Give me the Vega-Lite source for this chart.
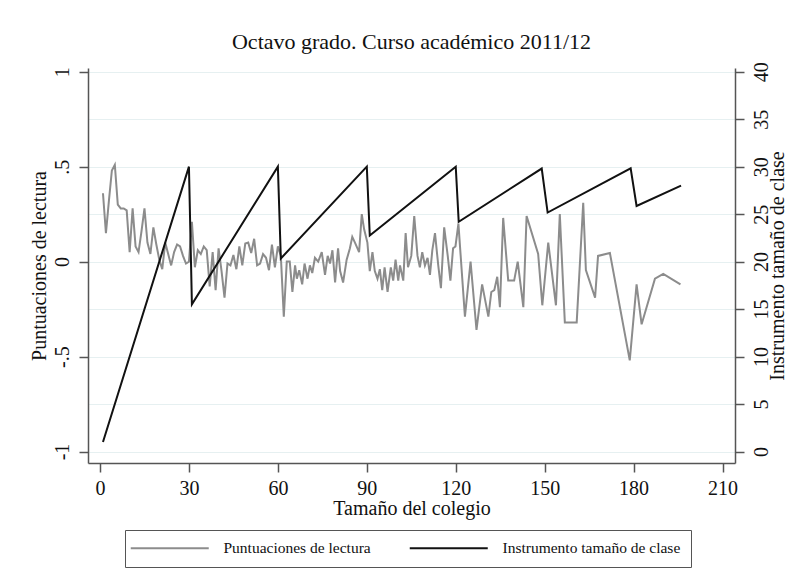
{
  "$schema": "https://vega.github.io/schema/vega-lite/v6.json",
  "autosize": {"type": "none"},
  "padding": {"left": 88, "top": 68, "right": 68, "bottom": 124},
  "width": 647,
  "height": 395,
  "background": "white",
  "config": {
    "view": {"stroke": null},
    "font": "Liberation Serif",
    "axis": {
      "labelFont": "Liberation Serif",
      "titleFont": "Liberation Serif",
      "labelFontSize": 20,
      "titleFontSize": 20,
      "labelColor": "#111",
      "titleColor": "#111",
      "titleFontWeight": "normal",
      "domainColor": "#555",
      "domainWidth": 1.5,
      "tickColor": "#555",
      "tickWidth": 1.5,
      "tickSize": 9
    }
  },
  "title": {
    "text": "Octavo grado. Curso académico 2011/12",
    "font": "Liberation Serif",
    "fontSize": 22,
    "fontWeight": "normal",
    "color": "#111",
    "anchor": "middle",
    "offset": 8
  },
  "datasets": {
    "lectura": [
      {"tamano": 1, "lectura": 0.36}, {"tamano": 2, "lectura": 0.15}, {"tamano": 3, "lectura": 0.32}, {"tamano": 4, "lectura": 0.48}, {"tamano": 5, "lectura": 0.51},
      {"tamano": 6, "lectura": 0.30}, {"tamano": 7, "lectura": 0.28}, {"tamano": 8, "lectura": 0.28}, {"tamano": 9, "lectura": 0.27}, {"tamano": 10, "lectura": 0.05},
      {"tamano": 11, "lectura": 0.28}, {"tamano": 12, "lectura": 0.08}, {"tamano": 13, "lectura": 0.05}, {"tamano": 14, "lectura": 0.16}, {"tamano": 15, "lectura": 0.28},
      {"tamano": 16, "lectura": 0.10}, {"tamano": 17, "lectura": 0.04}, {"tamano": 18, "lectura": 0.18}, {"tamano": 19, "lectura": 0.09}, {"tamano": 20, "lectura": 0.01},
      {"tamano": 21, "lectura": -0.04}, {"tamano": 22, "lectura": 0.10}, {"tamano": 23, "lectura": 0.04}, {"tamano": 24, "lectura": -0.02}, {"tamano": 25, "lectura": 0.05},
      {"tamano": 26, "lectura": 0.09}, {"tamano": 27, "lectura": 0.08}, {"tamano": 28, "lectura": 0.03}, {"tamano": 29, "lectura": -0.01}, {"tamano": 30, "lectura": 0.0},
      {"tamano": 31, "lectura": 0.21}, {"tamano": 32, "lectura": -0.03}, {"tamano": 33, "lectura": 0.06}, {"tamano": 34, "lectura": 0.04}, {"tamano": 35, "lectura": 0.08},
      {"tamano": 36, "lectura": 0.06}, {"tamano": 37, "lectura": -0.13}, {"tamano": 38, "lectura": 0.05}, {"tamano": 39, "lectura": -0.15}, {"tamano": 40, "lectura": 0.07},
      {"tamano": 41, "lectura": -0.05}, {"tamano": 42, "lectura": -0.19}, {"tamano": 43, "lectura": -0.01}, {"tamano": 44, "lectura": -0.02}, {"tamano": 45, "lectura": 0.035},
      {"tamano": 46, "lectura": -0.04}, {"tamano": 47, "lectura": 0.08}, {"tamano": 48, "lectura": -0.02}, {"tamano": 49, "lectura": 0.095}, {"tamano": 50, "lectura": 0.10},
      {"tamano": 51, "lectura": 0.045}, {"tamano": 52, "lectura": 0.12}, {"tamano": 53, "lectura": -0.02}, {"tamano": 54, "lectura": -0.01}, {"tamano": 55, "lectura": 0.04},
      {"tamano": 56, "lectura": 0.02}, {"tamano": 57, "lectura": -0.045}, {"tamano": 58, "lectura": 0.09}, {"tamano": 59, "lectura": -0.03}, {"tamano": 60, "lectura": 0.08},
      {"tamano": 61, "lectura": 0.03}, {"tamano": 62, "lectura": -0.29}, {"tamano": 63, "lectura": 0.0}, {"tamano": 64, "lectura": 0.0}, {"tamano": 64.9, "lectura": -0.16},
      {"tamano": 65.8, "lectura": -0.02}, {"tamano": 66.4, "lectura": -0.09}, {"tamano": 67.2, "lectura": -0.045}, {"tamano": 68.2, "lectura": -0.12}, {"tamano": 69, "lectura": -0.01},
      {"tamano": 70, "lectura": -0.09}, {"tamano": 70.8, "lectura": -0.02}, {"tamano": 71.6, "lectura": -0.06}, {"tamano": 72.5, "lectura": 0.02}, {"tamano": 73.6, "lectura": 0.0},
      {"tamano": 74.8, "lectura": 0.05}, {"tamano": 75.9, "lectura": -0.07}, {"tamano": 76.8, "lectura": 0.03}, {"tamano": 77.6, "lectura": -0.01}, {"tamano": 78.4, "lectura": 0.06},
      {"tamano": 79.3, "lectura": -0.11}, {"tamano": 80.3, "lectura": 0.07}, {"tamano": 81, "lectura": -0.05}, {"tamano": 82, "lectura": -0.11}, {"tamano": 83.2, "lectura": 0.01},
      {"tamano": 84.3, "lectura": 0.07}, {"tamano": 85.1, "lectura": 0.13}, {"tamano": 86, "lectura": 0.10}, {"tamano": 87.4, "lectura": 0.05}, {"tamano": 88.3, "lectura": 0.25},
      {"tamano": 89.1, "lectura": 0.17}, {"tamano": 90.2, "lectura": 0.10}, {"tamano": 91, "lectura": -0.05}, {"tamano": 91.9, "lectura": 0.05}, {"tamano": 92.7, "lectura": -0.05},
      {"tamano": 93.6, "lectura": -0.09}, {"tamano": 94.4, "lectura": -0.04}, {"tamano": 95.2, "lectura": -0.15}, {"tamano": 96, "lectura": -0.03}, {"tamano": 97, "lectura": -0.16},
      {"tamano": 98.1, "lectura": -0.03}, {"tamano": 98.9, "lectura": -0.10}, {"tamano": 99.7, "lectura": 0.01}, {"tamano": 100.6, "lectura": -0.10}, {"tamano": 101.2, "lectura": -0.02},
      {"tamano": 102.3, "lectura": -0.10}, {"tamano": 103.1, "lectura": 0.15}, {"tamano": 103.9, "lectura": -0.03}, {"tamano": 105, "lectura": 0.03}, {"tamano": 106, "lectura": 0.24},
      {"tamano": 107.1, "lectura": 0.03}, {"tamano": 107.9, "lectura": -0.03}, {"tamano": 108.7, "lectura": 0.05}, {"tamano": 109.6, "lectura": -0.02}, {"tamano": 110.5, "lectura": 0.02},
      {"tamano": 111.3, "lectura": -0.07}, {"tamano": 112.1, "lectura": 0.06}, {"tamano": 113, "lectura": 0.15}, {"tamano": 114.1, "lectura": -0.02}, {"tamano": 115, "lectura": -0.14},
      {"tamano": 116.1, "lectura": 0.18}, {"tamano": 117.3, "lectura": 0.03}, {"tamano": 118.2, "lectura": -0.10}, {"tamano": 119.1, "lectura": 0.07}, {"tamano": 119.9, "lectura": 0.08},
      {"tamano": 120.9, "lectura": 0.20}, {"tamano": 123.1, "lectura": -0.29}, {"tamano": 125, "lectura": 0.0}, {"tamano": 127, "lectura": -0.36}, {"tamano": 128.9, "lectura": -0.12},
      {"tamano": 131, "lectura": -0.29}, {"tamano": 132, "lectura": -0.16}, {"tamano": 133, "lectura": -0.15}, {"tamano": 134, "lectura": -0.08}, {"tamano": 134.9, "lectura": -0.24},
      {"tamano": 136, "lectura": 0.23}, {"tamano": 137.7, "lectura": -0.10}, {"tamano": 139.7, "lectura": -0.10}, {"tamano": 140.9, "lectura": 0.0}, {"tamano": 142.8, "lectura": -0.24},
      {"tamano": 143.9, "lectura": 0.24}, {"tamano": 147.8, "lectura": 0.04}, {"tamano": 149.2, "lectura": -0.23}, {"tamano": 151.2, "lectura": 0.10}, {"tamano": 153.8, "lectura": -0.23},
      {"tamano": 155.1, "lectura": 0.25}, {"tamano": 156.8, "lectura": -0.32}, {"tamano": 160.8, "lectura": -0.32}, {"tamano": 163, "lectura": 0.31}, {"tamano": 163.9, "lectura": -0.045},
      {"tamano": 167, "lectura": -0.19}, {"tamano": 168, "lectura": 0.03}, {"tamano": 172, "lectura": 0.045}, {"tamano": 178.7, "lectura": -0.52}, {"tamano": 181, "lectura": -0.12},
      {"tamano": 182.7, "lectura": -0.33}, {"tamano": 187.2, "lectura": -0.09}, {"tamano": 190, "lectura": -0.065}, {"tamano": 195.8, "lectura": -0.12}
    ],
    "instrumento": [
      {"tamano": 1, "instrumento": 1}, {"tamano": 30, "instrumento": 30}, {"tamano": 31, "instrumento": 15.5},
      {"tamano": 60, "instrumento": 30}, {"tamano": 61, "instrumento": 20.33}, {"tamano": 90, "instrumento": 30},
      {"tamano": 91, "instrumento": 22.75}, {"tamano": 120, "instrumento": 30}, {"tamano": 121, "instrumento": 24.2},
      {"tamano": 149, "instrumento": 29.8}, {"tamano": 151, "instrumento": 25.17}, {"tamano": 179, "instrumento": 29.83},
      {"tamano": 181, "instrumento": 25.86}, {"tamano": 196, "instrumento": 28}
    ]
  },
  "layer": [
    {
      "data": {"name": "lectura"},
      "mark": {"type": "line", "strokeWidth": 2, "strokeJoin": "miter"},
      "encoding": {
        "x": {
          "field": "tamano", "type": "quantitative",
          "scale": {"domain": [-4.05, 214.2], "nice": false, "zero": false},
          "axis": {"values": [0, 30, 60, 90, 120, 150, 180, 210], "title": "Tamaño del colegio", "grid": false, "labelPadding": 6, "titlePadding": 0, "labelFlush": false}
        },
        "y": {
          "field": "lectura", "type": "quantitative",
          "scale": {"domain": [-1.0605, 1.0195], "nice": false, "zero": false},
          "axis": {
            "orient": "left", "title": "Puntuaciones de lectura", "grid": false,
            "values": [-1, -0.5, 0, 0.5, 1],
            "labelExpr": "datum.value == 1 ? '1' : datum.value == 0.5 ? '.5' : datum.value == 0 ? '0' : datum.value == -0.5 ? '-.5' : '-1'",
            "labelAngle": -90, "labelAlign": "center", "labelBaseline": "bottom", "labelPadding": 7, "titlePadding": 3
          }
        },
        "color": {
          "datum": "Puntuaciones de lectura",
          "type": "nominal",
          "scale": {"domain": ["Puntuaciones de lectura", "Instrumento tamaño de clase"], "range": ["#8c8c8c", "#111111"]},
          "legend": {
            "orient": "none", "legendX": 37, "legendY": 462, "direction": "horizontal", "title": null,
            "strokeColor": "#555", "padding": 10,
            "symbolType": "M-6,0H33", "symbolSize": 16, "symbolStrokeWidth": 2, "symbolFillColor": "transparent",
            "labelFont": "Liberation Serif", "labelFontSize": 15.5, "labelColor": "#111", "labelOffset": 73, "columnPadding": 34, "labelLimit": 400
          }
        }
      }
    },
    {
      "data": {"name": "instrumento"},
      "mark": {"type": "line", "strokeWidth": 2, "strokeJoin": "miter"},
      "encoding": {
        "x": {"field": "tamano", "type": "quantitative"},
        "y": {
          "field": "instrumento", "type": "quantitative",
          "scale": {"domain": [-1.21, 40.39], "nice": false, "zero": false},
          "axis": {
            "orient": "right", "title": "Instrumento tamaño de clase", "titleAngle": -90, "titleBaseline": "top",
            "values": [0, 5, 10, 15, 20, 25, 30, 35, 40],
            "grid": true, "gridColor": "#e6f0f1", "gridWidth": 1.2,
            "labelAngle": -90, "labelAlign": "center", "labelBaseline": "top", "labelPadding": 7, "titlePadding": -4
          }
        },
        "color": {"datum": "Instrumento tamaño de clase", "type": "nominal"}
      }
    }
  ],
  "resolve": {"scale": {"y": "independent"}}
}
